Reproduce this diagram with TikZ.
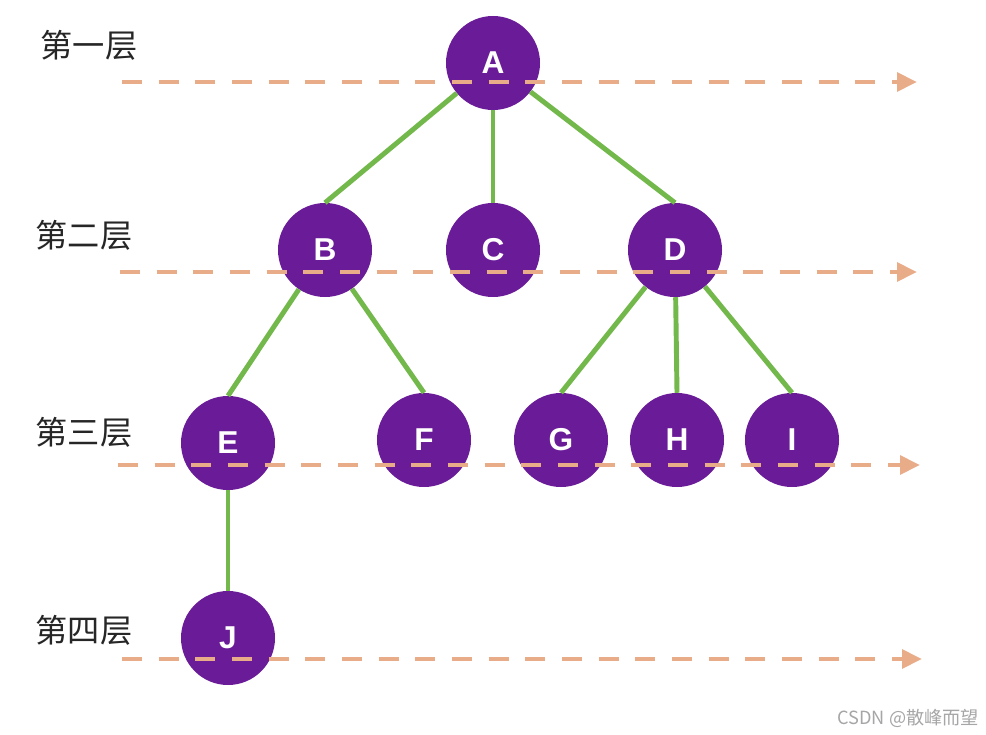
\documentclass[tikz,border=0pt]{standalone}
\usepackage{fontspec}
\setmainfont{Liberation Sans}
\newfontfamily\cjkfont{Noto Sans CJK SC}
\usetikzlibrary{arrows.meta}

\definecolor{nodepurple}{RGB}{106,28,152}
\definecolor{edgegreen}{RGB}{114,184,74}
\definecolor{dashpeach}{RGB}{233,172,136}

\begin{document}
\begin{tikzpicture}[
  x=0.03cm, y=-0.03cm,
  vtx/.style={circle, fill=nodepurple, minimum size=2.82cm, inner sep=0pt, text=white, font=\fontsize{27}{27}\selectfont\bfseries},
  edge/.style={draw=edgegreen, line width=4.2pt},
  lvl/.style={draw=dashpeach, line width=4.2pt, dash pattern=on 0.6cm off 0.5cm, -{Triangle[length=6mm, width=5.5mm]}},
  layer/.style={font=\cjkfont\fontsize{27.5}{27.5}\selectfont, text=black!85}
]
\useasboundingbox[fill=white] (0,0) rectangle (986,735);

% level labels
\node[layer] (lab1) at (89,45) {第一层};
\node[layer] (lab2) at (84,235) {第二层};
\node[layer] (lab3) at (84,432) {第三层};
\node[layer] (lab4) at (84,630) {第四层};

% tree nodes
\node[vtx] (A) at (493,63) {A};
\node[vtx] (B) at (325,250) {B};
\node[vtx] (C) at (493,250) {C};
\node[vtx] (D) at (675,250) {D};
\node[vtx] (E) at (228,443) {E};
\node[vtx] (F) at (424,440) {F};
\node[vtx] (G) at (561,440) {G};
\node[vtx] (H) at (677,440) {H};
\node[vtx] (I) at (792,440) {I};
\node[vtx] (J) at (228,638) {J};

\draw[edge] (A) -- (B.north);
\draw[edge] (A) -- (C.north);
\draw[edge] (A) -- (D.north);
\draw[edge] (B) -- (E.north);
\draw[edge] (B) -- (F.north);
\draw[edge] (D) -- (G.north);
\draw[edge] (D) -- (H.north);
\draw[edge] (D) -- (I.north);
\draw[edge] (E) -- (J.north);

% dashed level lines
\coordinate (l1s) at (122,82);  \coordinate (l1e) at (917,82);
\coordinate (l2s) at (120,272); \coordinate (l2e) at (917,272);
\coordinate (l3s) at (118,465); \coordinate (l3e) at (920,465);
\coordinate (l4s) at (122,659); \coordinate (l4e) at (922,659);
\draw[lvl] (l1s) -- (l1e);
\draw[lvl] (l2s) -- (l2e);
\draw[lvl] (l3s) -- (l3e);
\draw[lvl] (l4s) -- (l4e);

\node[font=\cjkfont\fontsize{15.5}{15.5}\selectfont, text=black!35, anchor=east] (mark) at (983,718) {CSDN @散峰而望};
\end{tikzpicture}
\end{document}
